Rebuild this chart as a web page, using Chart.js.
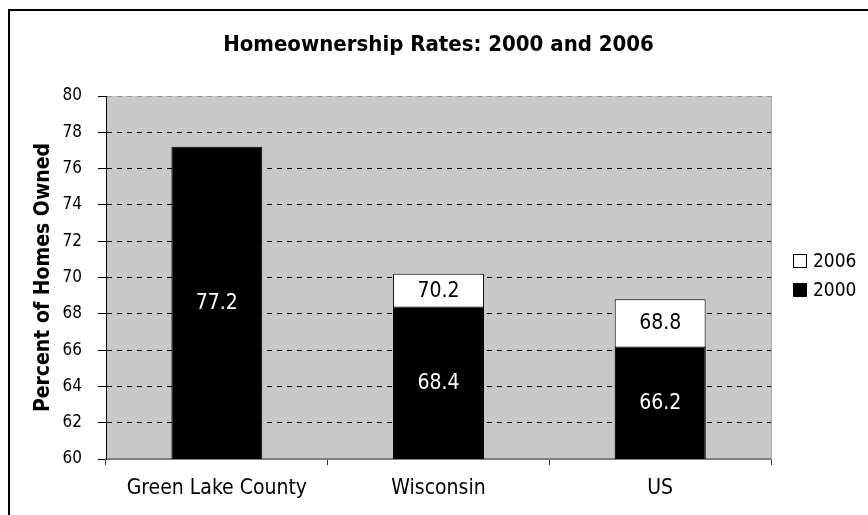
<!DOCTYPE html>
<html>
<head>
<meta charset="utf-8">
<title>Homeownership Rates</title>
<script src="https://cdn.jsdelivr.net/npm/chart.js@4.4.0/dist/chart.umd.min.js"></script>
<style>
  body { margin: 0; background: #fff; }
</style>
</head>
<body>
<canvas id="myChart" width="868" height="515"></canvas>
<script>
// data
const places = ["Green Lake County", "Wisconsin", "US"]
const rates2000 = [77.2, 68.4, 66.2]
const rates2006 = [null, 70.2, 68.8]
const yMin = 60
const yMax = 80
const yStep = 2

const font = '"DejaVu Sans Condensed", "DejaVu Sans", sans-serif'
Chart.defaults.font.family = font
Chart.defaults.font.size = 21
Chart.defaults.color = "#000"

const ctx = document.getElementById("myChart").getContext("2d")

// grey plot area + outer frame
const backdrop = {
    id: "backdrop",
    beforeDraw(chart) {
        const c = chart.ctx
        const a = chart.chartArea
        c.save()
        c.fillStyle = "#fff"
        c.fillRect(0, 0, chart.width, chart.height)
        c.strokeStyle = "#000"
        c.lineWidth = 2
        c.strokeRect(9, 10, chart.width + 20, chart.height + 20)
        c.fillStyle = "#c8c8c8"
        c.fillRect(a.left, a.top, a.right - a.left, a.bottom - a.top)
        c.restore()
    },
    afterDraw(chart) {
        const c = chart.ctx
        const a = chart.chartArea
        c.save()
        c.strokeStyle = "#a8a8a8"
        c.lineWidth = 1
        c.beginPath()
        c.moveTo(a.right + 0.5, a.top)
        c.lineTo(a.right + 0.5, a.bottom)
        c.stroke()
        c.restore()
    }
}

// numbers inside the visible part of each bar
const barLabels = {
    id: "barLabels",
    afterDatasetsDraw(chart) {
        const c = chart.ctx
        const y = chart.scales.y
        const x = chart.scales.x
        const bottom = y.getPixelForValue(yMin)
        c.save()
        c.font = "21px " + font
        c.textAlign = "center"
        c.textBaseline = "middle"
        for (let i = 0; i < places.length; i++) {
            const cx = x.getPixelForValue(i)
            const top00 = y.getPixelForValue(rates2000[i])
            c.fillStyle = "#fff"
            c.fillText(rates2000[i].toFixed(1), cx, (top00 + bottom) / 2 + 1)
            if (rates2006[i] != null) {
                const top06 = y.getPixelForValue(rates2006[i])
                c.fillStyle = "#000"
                c.fillText(rates2006[i].toFixed(1), cx, (top06 + top00) / 2 + 1)
            }
        }
        c.restore()
    }
}

// legend on the right, 2006 above 2000
const sideLegend = {
    id: "sideLegend",
    afterDraw(chart) {
        const c = chart.ctx
        const items = chart.data.datasets.slice().reverse()
        c.save()
        c.font = "19px " + font
        c.textBaseline = "middle"
        items.forEach((ds, k) => {
            const y = 261 + k * 29
            c.fillStyle = ds.backgroundColor
            c.fillRect(793, y - 7, 14, 14)
            c.strokeStyle = "#000"
            c.lineWidth = 1
            c.strokeRect(793.5, y - 6.5, 13, 13)
            c.fillStyle = "#000"
            c.fillText(ds.label, 813, y + 1)
        })
        c.restore()
    }
}

const myChart = new Chart(ctx, {
    type: "bar",
    data: {
        labels: places,
        datasets: [{
            label: "2000",
            data: rates2000,
            backgroundColor: "#000",
            borderColor: "#000",
            borderWidth: 1,
            grouped: false,
            barPercentage: 0.41,
            categoryPercentage: 1
        }, {
            label: "2006",
            data: rates2006,
            backgroundColor: "#fff",
            borderColor: "#000",
            borderWidth: 1,
            grouped: false,
            barPercentage: 0.41,
            categoryPercentage: 1
        }]
    },
    options: {
        responsive: false,
        animation: false,
        layout: {
            padding: { left: 0, right: 97, top: 0, bottom: 0 }
        },
        plugins: {
            legend: { display: false },
            tooltip: { enabled: false },
            title: {
                display: true,
                fullSize: false,
                text: "Homeownership Rates: 2000 and 2006",
                font: { size: 22, weight: "bold" },
                padding: { top: 32, bottom: 37.6 }
            }
        },
        scales: {
            x: {
                offset: true,
                grid: {
                    offset: true,
                    drawOnChartArea: false,
                    drawTicks: true,
                    tickLength: 6,
                    tickColor: "#333"
                },
                border: { color: "#808080", width: 2 },
                ticks: { padding: 11, color: "#000" },
                afterFit(scale) { scale.height = 56 }
            },
            y: {
                min: yMin,
                max: yMax,
                ticks: { stepSize: yStep, padding: 16, color: "#000", font: { size: 17 } },
                grid: {
                    color: (c) => c.tick && c.tick.value === yMax ? "#9a9a9a" : (c.tick && c.tick.value === yMin ? "rgba(0,0,0,0)" : "#000"),
                    tickColor: "#000",
                    tickLength: 8,
                    tickBorderDash: []
                },
                border: { color: "#000", width: 1, dash: [5, 5] },
                title: {
                    display: true,
                    text: "Percent of Homes Owned",
                    font: { size: 21, weight: "bold" },
                    padding: { top: 31, bottom: 0 }
                },
                afterFit(scale) { scale.width = 106 }
            }
        }
    },
    plugins: [backdrop, barLabels, sideLegend]
})
</script>
</body>
</html>
